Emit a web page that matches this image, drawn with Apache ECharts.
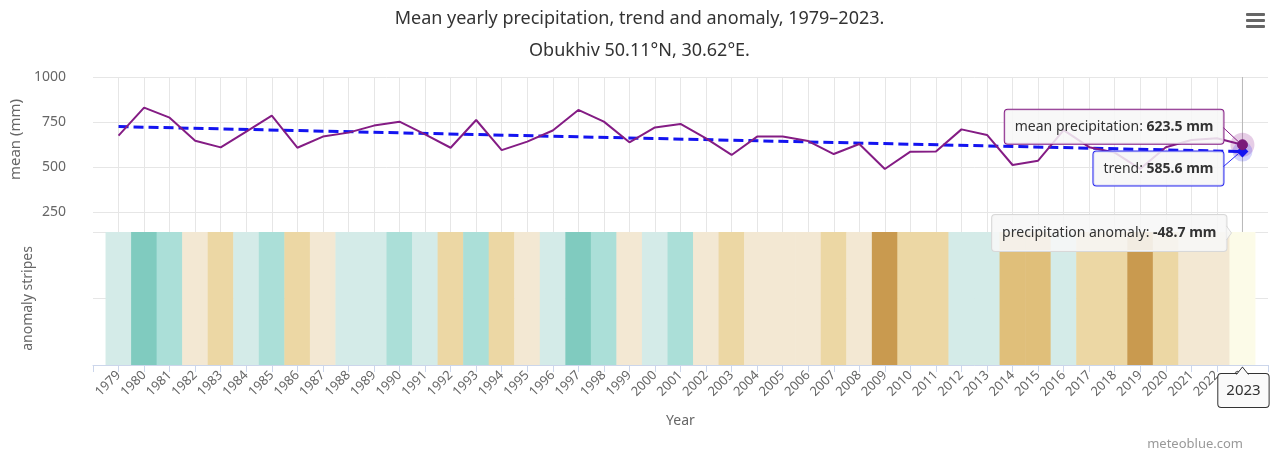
<!DOCTYPE html>
<html>
<head>
<meta charset="utf-8">
<title>Mean yearly precipitation</title>
<script src="https://cdn.jsdelivr.net/npm/echarts@6/dist/echarts.min.js"></script>
<style>
    html, body { margin: 0; padding: 0; background: #fff; }
    #chart1 { width: 1279px; height: 455px; }
</style>
</head>
<body>
<div id="chart1"></div>
<script>
var years = [1979, 1980, 1981, 1982, 1983, 1984, 1985, 1986, 1987, 1988,
    1989, 1990, 1991, 1992, 1993, 1994, 1995, 1996, 1997, 1998,
    1999, 2000, 2001, 2002, 2003, 2004, 2005, 2006, 2007, 2008,
    2009, 2010, 2011, 2012, 2013, 2014, 2015, 2016, 2017, 2018,
    2019, 2020, 2021, 2022, 2023];
// mean yearly precipitation, mm
var meanPrecip = [674, 830, 774, 646, 609, 696, 785, 607, 669, 691,
    730, 752, 681, 607, 761, 594, 641, 703, 817, 752,
    637, 720, 739, 659, 567, 669, 670, 644, 572, 628,
    489, 585, 586, 709, 678, 511, 535, 705, 610, 580,
    490, 610, 650, 660, 623.5];
// linear trend, first and last year
var trendYears = [1979, 2023];
var trendValues = [724.5, 585.6];
var refMean = 672.2; // 623.5 mm - (-48.7 mm)
var yTicks = [250, 500, 750, 1000];
var stripeHeight = 2;
var hoverIndex = 44;

var colorList = ['#80cbbf', '#abdfd8', '#d4ebe8', '#f3e8d3', '#ecd7a4', '#e0bf7a', '#c99a4f'];
var fontFam = '"Noto Sans", "Open Sans", sans-serif';

function stripeColor(anomaly) {
    if (anomaly > 120) return colorList[0];
    if (anomaly > 60) return colorList[1];
    if (anomaly > 0) return colorList[2];
    if (anomaly > -50) return colorList[3];
    if (anomaly > -110) return colorList[4];
    if (anomaly > -170) return colorList[5];
    return colorList[6];
}

var meanData = [];
var stripeData = [];
for (var i = 0; i < years.length; i++) {
    var item = { value: [years[i], meanPrecip[i]] };
    if (i == hoverIndex) {
        item.symbol = 'circle';
        item.symbolSize = 10;
    }
    meanData.push(item);
    stripeData.push([years[i], stripeHeight]);
}
var trendData = [];
for (var j = 0; j < trendYears.length; j++) {
    var t = { value: [trendYears[j], trendValues[j]] };
    if (j == trendYears.length - 1) {
        t.symbol = 'diamond';
        t.symbolSize = 12;
    }
    trendData.push(t);
}

var chart1 = echarts.init(document.getElementById('chart1'));

var option = {
    animation: false,
    stateAnimation: { duration: 0 },
    textStyle: { fontFamily: fontFam },
    title: [{
        text: 'Mean yearly precipitation, trend and anomaly, 1979–2023.',
        left: 'center',
        top: 5,
        textStyle: { fontSize: 18, fontWeight: 'normal', color: '#333', fontFamily: fontFam }
    }, {
        text: 'Obukhiv 50.11°N, 30.62°E.',
        left: 'center',
        top: 37,
        textStyle: { fontSize: 18, fontWeight: 'normal', color: '#333', fontFamily: fontFam }
    }],
    grid: [
        { left: 93, right: 11, top: 77, height: 135 },
        { left: 93, right: 11, top: 212, height: 153 }
    ],
    xAxis: [{
        type: 'value',
        gridIndex: 0,
        min: years[0] - 1,
        max: years[years.length - 1] + 1,
        interval: 1,
        axisLine: { show: false },
        axisTick: { show: false },
        axisLabel: { show: false },
        splitLine: { show: true, showMinLine: false, showMaxLine: false, lineStyle: { color: '#e6e6e6' } }
    }, {
        type: 'value',
        gridIndex: 1,
        min: years[0] - 1,
        max: years[years.length - 1] + 1,
        interval: 1,
        name: 'Year',
        nameLocation: 'middle',
        nameGap: 49,
        nameTextStyle: { color: '#666', fontSize: 14, fontFamily: fontFam },
        axisLine: { show: true, lineStyle: { color: '#ccd6eb' } },
        axisTick: { show: true, length: 7, lineStyle: { color: '#ccd6eb' } },
        axisLabel: {
            rotate: 45,
            margin: 8,
            color: '#666',
            fontSize: 13,
            formatter: function(v) {
                if (v < years[0] || v > years[years.length - 1]) return '';
                return String(v);
            }
        },
        splitLine: { show: true, showMinLine: false, showMaxLine: false, lineStyle: { color: '#e6e6e6' } }
    }],
    yAxis: [{
        type: 'value',
        gridIndex: 0,
        min: yTicks[0],
        max: yTicks[yTicks.length - 1],
        interval: yTicks[1] - yTicks[0],
        name: 'mean (mm)',
        nameLocation: 'middle',
        nameGap: 70,
        nameTextStyle: { color: '#666', fontSize: 15, fontFamily: fontFam, padding: [0, 0, 0, 10] },
        axisLine: { show: false },
        axisTick: { show: false },
        axisLabel: {
            margin: 27,
            color: '#666',
            fontSize: 14,
            formatter: function(v) { return String(v); }
        },
        splitLine: { lineStyle: { color: '#e6e6e6' } }
    }, {
        type: 'value',
        gridIndex: 1,
        min: 0,
        max: 2.3,
        interval: 1,
        name: 'anomaly stripes',
        nameLocation: 'middle',
        nameGap: 58,
        nameTextStyle: { color: '#666', fontSize: 14, fontFamily: fontFam, padding: [0, 20, 0, 0] },
        axisLine: { show: false },
        axisTick: { show: false },
        axisLabel: { show: false },
        splitLine: { lineStyle: { color: '#e6e6e6' } }
    }],
    series: [{
        name: 'mean precipitation',
        type: 'line',
        xAxisIndex: 0,
        yAxisIndex: 0,
        symbol: 'none',
        z: 4,
        data: meanData,
        lineStyle: { color: '#841c84', width: 2 },
        itemStyle: { color: '#7a1a7a', borderColor: '#7a1a7a' }
    }, {
        name: 'trend',
        type: 'line',
        xAxisIndex: 0,
        yAxisIndex: 0,
        symbol: 'none',
        z: 3,
        data: trendData,
        lineStyle: { color: '#1414f0', width: 3, type: [10, 5] },
        itemStyle: { color: '#1414f0' }
    }, {
        name: 'precipitation anomaly',
        type: 'bar',
        xAxisIndex: 1,
        yAxisIndex: 1,
        barWidth: 26,
        data: stripeData,
        itemStyle: {
            color: function(params) {
                return stripeColor(meanPrecip[params.dataIndex] - refMean);
            }
        },
        emphasis: { itemStyle: { color: '#fcfbe8' } }
    }]
};
chart1.setOption(option);
chart1.dispatchAction({ type: 'highlight', seriesIndex: 2, dataIndex: hoverIndex });

function drawHover() {
    var yr = years[hoverIndex];
    var mean = meanPrecip[hoverIndex];
    var trend = trendValues[trendValues.length - 1];
    var anomaly = mean - refMean;
    var p1 = chart1.convertToPixel({ xAxisIndex: 0, yAxisIndex: 0 }, [yr, mean]);
    var p2 = chart1.convertToPixel({ xAxisIndex: 0, yAxisIndex: 0 }, [yr, trend]);
    var pTop = chart1.convertToPixel({ xAxisIndex: 0, yAxisIndex: 0 }, [yr, yTicks[yTicks.length - 1]]);
    var p3 = chart1.convertToPixel({ xAxisIndex: 1, yAxisIndex: 1 }, [yr, stripeHeight]);
    var p4 = chart1.convertToPixel({ xAxisIndex: 1, yAxisIndex: 1 }, [yr, 0]);

    var boxFont = '14px ' + fontFam;
    var bold = { fontWeight: 'bold', fontSize: 14, fill: '#333', fontFamily: fontFam };
    var elements = [
        // crosshair
        { type: 'line', z: 1, shape: { x1: p1[0], y1: pTop[1], x2: p1[0], y2: p3[1] }, style: { stroke: '#b8b8b8', lineWidth: 1 } },
        // halos
        { type: 'circle', z: 1, shape: { cx: p1[0], cy: p1[1], r: 12 }, style: { fill: 'rgba(139,29,139,0.22)' } },
        { type: 'circle', z: 1, shape: { cx: p2[0], cy: p2[1], r: 10 }, style: { fill: 'rgba(40,40,240,0.2)' } },
        // mean box
        {
            type: 'text', z: 100, x: p1[0] - 19, y: p1[1] - 18,
            style: {
                text: 'mean precipitation: {b|' + mean.toFixed(1) + ' mm}',
                rich: { b: bold },
                font: boxFont, fill: '#333', align: 'right', verticalAlign: 'middle',
                backgroundColor: 'rgba(247,247,247,0.85)', borderColor: '#841c84', borderWidth: 1,
                borderRadius: 3, padding: [10, 10, 10, 10]
            }
        },
        { type: 'polyline', z: 100, shape: { points: [[p1[0] - 19, p1[1] - 17], [p1[0] - 4, p1[1] - 3]] }, style: { stroke: '#841c84', lineWidth: 1, fill: null } },
        // trend box
        {
            type: 'text', z: 100, x: p2[0] - 19, y: p2[1] + 17,
            style: {
                text: 'trend: {b|' + trend.toFixed(1) + ' mm}',
                rich: { b: bold },
                font: boxFont, fill: '#333', align: 'right', verticalAlign: 'middle',
                backgroundColor: 'rgba(247,247,247,0.85)', borderColor: '#2a2af0', borderWidth: 1,
                borderRadius: 3, padding: [10, 10, 10, 10]
            }
        },
        { type: 'polyline', z: 100, shape: { points: [[p2[0] - 19, p2[1] + 15], [p2[0] - 4, p2[1] + 2]] }, style: { stroke: '#2a2af0', lineWidth: 1, fill: null } },
        // anomaly box
        {
            type: 'text', z: 100, x: p3[0] - 16, y: p3[1] + 1,
            style: {
                text: 'precipitation anomaly: {b|' + anomaly.toFixed(1) + ' mm}',
                rich: { b: bold },
                font: boxFont, fill: '#333', align: 'right', verticalAlign: 'middle',
                backgroundColor: 'rgba(247,247,247,0.88)', borderColor: '#d8d8d8', borderWidth: 1,
                borderRadius: 3, padding: [11, 10, 11, 10]
            }
        },
        { type: 'polyline', z: 100, shape: { points: [[p3[0] - 16, p3[1] - 6], [p3[0] - 11, p3[1] + 1], [p3[0] - 16, p3[1] + 8]] }, style: { stroke: '#d8d8d8', lineWidth: 1, fill: 'rgba(247,247,247,0.88)' } },
        // x label box
        {
            type: 'text', z: 100, x: p4[0] + 1, y: p4[1] + 9,
            style: {
                text: String(yr), font: '15px ' + fontFam, fill: '#333', align: 'center', verticalAlign: 'top',
                backgroundColor: '#fafafa', borderColor: '#333', borderWidth: 1, borderRadius: 3, padding: [9, 8, 9, 8]
            }
        },
        { type: 'polyline', z: 101, shape: { points: [[p4[0] - 6, p4[1] + 9.5], [p4[0], p4[1] + 2], [p4[0] + 6, p4[1] + 9.5]] }, style: { stroke: '#333', lineWidth: 1, fill: '#fafafa' } },
        // menu icon
        { type: 'rect', z: 100, shape: { x: 1246, y: 13, width: 19, height: 3, r: 1 }, style: { fill: '#666' } },
        { type: 'rect', z: 100, shape: { x: 1246, y: 19, width: 19, height: 3, r: 1 }, style: { fill: '#666' } },
        { type: 'rect', z: 100, shape: { x: 1246, y: 25, width: 19, height: 3, r: 1 }, style: { fill: '#666' } },
        // credits
        { type: 'text', z: 100, x: 1243, y: 444, style: { text: 'meteoblue.com', font: '13px ' + fontFam, fill: '#999', align: 'right', verticalAlign: 'middle' } }
    ];
    chart1.setOption({ graphic: { elements: elements } });
}
drawHover();
</script>
</body>
</html>
